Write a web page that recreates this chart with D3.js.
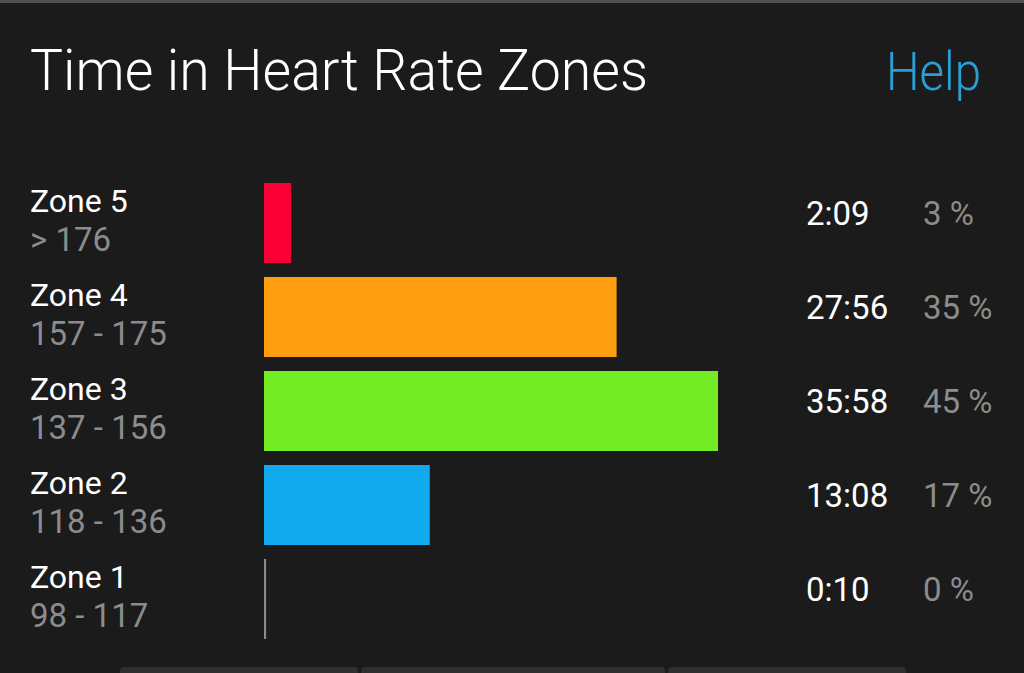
<!DOCTYPE html>
<html>
<head>
<meta charset="utf-8">
<script src="https://cdn.jsdelivr.net/npm/d3@7"></script>
<style>
  html, body { margin: 0; padding: 0; background: #1b1b1b; overflow: hidden; }
  text { font-family: Roboto, "Noto Sans", sans-serif; }
</style>
</head>
<body>
<svg id="svg"></svg>
<script>
const width = 1024;
const height = 673;

// data
const zones = ["Zone 5", "Zone 4", "Zone 3", "Zone 2", "Zone 1"];
const ranges = ["> 176", "157 - 175", "137 - 156", "118 - 136", "98 - 117"];
const times = ["2:09", "27:56", "35:58", "13:08", "0:10"];
const percents = [3, 35, 45, 17, 0];

const toSeconds = t => t.split(":").reduce((a, b) => a * 60 + +b, 0);

const svg = d3.select("#svg")
    .attr("width", width)
    .attr("height", height);

const render = data => {
    const margin = {top: 183, left: 264};

    // top divider
    svg.append("rect")
        .attr("x", 0).attr("y", 0)
        .attr("width", width).attr("height", 3)
        .attr("fill", "#505050");

    // the app font is a bit narrower than Roboto, so squeeze to width
    svg.append("text")
        .attr("x", 30).attr("y", 90)
        .attr("fill", "#ffffff")
        .attr("font-size", 58)
        .attr("font-weight", 300)
        .attr("textLength", 618)
        .attr("lengthAdjust", "spacingAndGlyphs")
        .text("Time in Heart Rate Zones");

    svg.append("text")
        .attr("x", 886).attr("y", 90)
        .attr("fill", "#2a9fd6")
        .attr("font-size", 53)
        .attr("font-weight", 300)
        .attr("textLength", 95)
        .attr("lengthAdjust", "spacingAndGlyphs")
        .text("Help");

    const xScale = d3.scaleLinear()
        .domain([0, d3.max(data, d => d.seconds)])
        .range([0, 454]);

    const yScale = d3.scaleBand()
        .domain(data.map(d => d.zone))
        .range([margin.top, 639])
        .paddingInner(14 / 94)
        .paddingOuter(0);

    const color = d3.scaleOrdinal()
        .domain(zones)
        .range(["#fb0036", "#ff9e10", "#73eb25", "#12aaee", "#8a8a8a"]);

    const row = svg.selectAll("g.row").data(data)
        .enter().append("g")
        .attr("class", "row")
        .attr("transform", d => `translate(0,${yScale(d.zone)})`);

    row.append("rect")
        .attr("x", margin.left)
        .attr("y", 0)
        .attr("width", d => Math.max(2, xScale(d.seconds)))
        .attr("height", yScale.bandwidth())
        .attr("fill", d => color(d.zone));

    row.append("text")
        .attr("x", 30).attr("y", 29)
        .attr("fill", "#ffffff")
        .attr("font-size", 32)
        .text(d => d.zone);

    row.append("text")
        .attr("x", 30).attr("y", 68)
        .attr("fill", "#8c8c8c")
        .attr("font-size", 33)
        .text(d => d.range);

    row.append("text")
        .attr("x", 806).attr("y", 42)
        .attr("fill", "#ffffff")
        .attr("font-size", 33)
        .text(d => d.time);

    row.append("text")
        .attr("x", 923).attr("y", 42)
        .attr("fill", "#8c8c8c")
        .attr("font-size", 33)
        .text(d => d.percent + " %");

    // bottom tab strip
    const tabs = [[120, 358], [361, 665], [668, 906]];
    svg.selectAll("rect.tab").data(tabs)
        .enter().append("rect")
        .attr("class", "tab")
        .attr("x", d => d[0]).attr("y", 667)
        .attr("width", d => d[1] - d[0]).attr("height", 12)
        .attr("rx", 4)
        .attr("fill", "#2f2f2f");
};

const data = zones.map((z, i) => ({
    zone: z,
    range: ranges[i],
    time: times[i],
    seconds: toSeconds(times[i]),
    percent: percents[i]
}));

render(data);
</script>
</body>
</html>
